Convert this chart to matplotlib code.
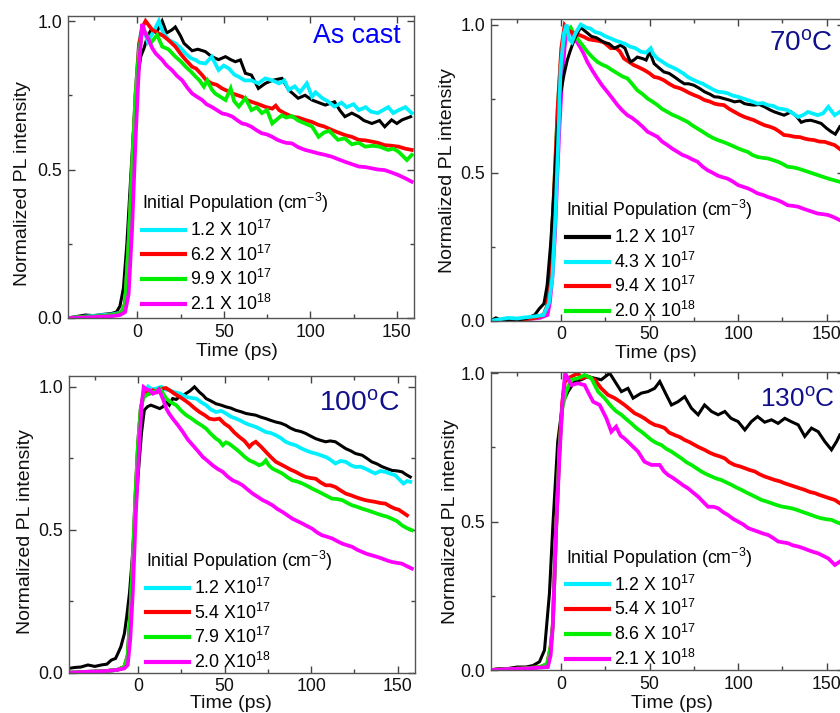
import matplotlib
matplotlib.use("Agg")
import matplotlib.pyplot as plt
from matplotlib.ticker import MultipleLocator, FormatStrFormatter

plt.rcParams['font.family'] = ['Liberation Sans', 'DejaVu Sans']
plt.rcParams['mathtext.fontset'] = 'custom'
plt.rcParams['mathtext.rm'] = 'Liberation Sans'
plt.rcParams['mathtext.it'] = 'Liberation Sans:italic'
plt.rcParams['mathtext.bf'] = 'Liberation Sans:bold'

# ---------------- data (time in ps, normalized PL) ----------------
# Panel 1: As cast
p1_black = [(-40,0.0),(-35,0.005),(-30,0.01),(-25,0.008),(-20,0.012),(-15,0.015),(-12,0.02),(-10,0.04),(-8,0.1),(-6,0.25),(-4,0.45),(-2,0.65),(0,0.8),(2,0.88),(4,0.91),(6,0.95),(8,0.97),(11,0.96),(14.4,1.0),(17,0.96),(20,0.97),(22,0.98),(25,0.95),(27,0.925),(31.7,0.90),(35,0.905),(39.4,0.897),(43,0.88),(47,0.87),(51,0.88),(54,0.87),(56.7,0.863),(59.6,0.869),(62.5,0.824),(66,0.818),(70,0.773),(74,0.79),(78,0.80),(83.6,0.807),(87.5,0.768),(93,0.74),(97,0.75),(101,0.734),(105,0.725),(108.7,0.717),(114,0.728),(117,0.70),(120,0.678),(124,0.69),(128,0.678),(131,0.665),(135.6,0.655),(140,0.665),(143,0.644),(147,0.667),(150,0.655),(153,0.667),(158,0.678)]
p1_cyan = [(-40,0.0),(-30,0.005),(-20,0.01),(-15,0.012),(-12,0.015),(-9,0.02),(-7,0.05),(-5,0.25),(-3,0.5),(-1,0.75),(1,0.92),(3,0.99),(6,0.93),(9,0.96),(12.5,1.0),(15,0.96),(18.3,0.936),(22,0.925),(25,0.91),(28,0.89),(31,0.875),(33.7,0.869),(36,0.86),(39.4,0.857),(43,0.88),(47,0.835),(50,0.85),(53,0.84),(56,0.82),(58.7,0.812),(62,0.80),(66,0.80),(70,0.79),(74,0.807),(78,0.80),(82,0.79),(85,0.80),(87.5,0.768),(91,0.78),(94,0.76),(98,0.79),(101,0.745),(103,0.76),(107,0.74),(110,0.73),(114,0.712),(118,0.725),(121,0.71),(125,0.72),(128,0.70),(132,0.71),(135,0.695),(139,0.69),(142,0.70),(145,0.71),(148,0.69),(151,0.70),(155,0.71),(158.6,0.69)]
p1_red = [(-40,0.0),(-30,0.003),(-20,0.006),(-15,0.01),(-12,0.012),(-9,0.02),(-7,0.05),(-5,0.25),(-3,0.5),(-1,0.75),(1,0.92),(3,0.98),(4.8,1.0),(8.7,0.97),(12.5,0.958),(15,0.95),(18,0.936),(22,0.914),(25,0.89),(28,0.869),(31.7,0.846),(34,0.84),(37.5,0.818),(40,0.80),(43,0.79),(46,0.785),(49,0.773),(52,0.765),(55,0.756),(58,0.75),(60.6,0.745),(63,0.735),(66,0.728),(70,0.72),(74,0.711),(78,0.705),(80,0.715),(82,0.70),(85,0.69),(89.4,0.678),(93,0.675),(97,0.667),(101,0.66),(104.8,0.65),(108,0.645),(112.5,0.633),(116,0.625),(120,0.616),(124,0.61),(128,0.60),(132,0.598),(135.6,0.594),(139,0.59),(143,0.582),(147,0.58),(151,0.577),(155,0.57),(158.6,0.566)]
p1_green = [(-40,0.0),(-30,0.003),(-20,0.006),(-15,0.01),(-12,0.012),(-9,0.02),(-7,0.05),(-5,0.25),(-3,0.5),(-1,0.75),(1,0.9),(3,0.97),(5,0.96),(7.7,0.925),(11.5,0.953),(14.4,0.914),(18,0.905),(22,0.88),(25,0.865),(28,0.846),(31,0.83),(33.7,0.813),(36,0.80),(38.5,0.779),(40.5,0.80),(43,0.77),(45,0.756),(48,0.745),(51,0.734),(54,0.773),(56,0.73),(58.7,0.712),(62.5,0.74),(66,0.70),(69,0.71),(72,0.69),(75,0.70),(78,0.655),(81,0.67),(83.6,0.683),(86,0.675),(89.4,0.68),(93,0.665),(97,0.655),(101,0.645),(104.8,0.61),(108,0.625),(111,0.63),(116,0.60),(120,0.605),(124,0.585),(128,0.59),(131.7,0.577),(136,0.58),(140,0.577),(145,0.566),(148,0.57),(151,0.56),(155.8,0.532),(158.6,0.549)]
p1_magenta = [(-40,0.0),(-35,0.0),(-25,0.003),(-15,0.006),(-10,0.01),(-7,0.02),(-5,0.08),(-3,0.3),(-1,0.6),(1,0.85),(2.9,0.99),(4.5,0.96),(6.7,0.936),(8.5,0.91),(10.6,0.891),(12.5,0.88),(14.4,0.869),(17,0.85),(20,0.835),(23,0.815),(26,0.80),(29,0.775),(31.7,0.756),(34.5,0.745),(37.5,0.734),(40,0.72),(43,0.711),(46,0.70),(49,0.689),(52,0.685),(55,0.678),(58,0.665),(60.6,0.655),(63,0.652),(66,0.644),(69,0.632),(72,0.622),(75,0.618),(78,0.61),(81,0.60),(83.6,0.594),(86,0.59),(89.4,0.588),(93,0.575),(97,0.566),(101,0.56),(104.8,0.554),(108,0.55),(112.5,0.543),(116,0.535),(120,0.526),(124,0.518),(128,0.51),(132,0.508),(135.6,0.504),(139,0.50),(143,0.498),(147,0.49),(151,0.481),(155,0.47),(158.6,0.459)]

# Panel 2: 70 C
p2_black = [(-40,0.0),(-37,0.01),(-33,0.0),(-28,0.005),(-24,0.003),(-20,0.008),(-15,0.02),(-12.6,0.04),(-9.8,0.058),(-8,0.12),(-6,0.26),(-4.5,0.4),(-3.2,0.54),(-2,0.66),(-0.4,0.767),(1.5,0.83),(3.4,0.88),(5,0.91),(7.2,0.947),(9,0.97),(11,0.99),(14,0.975),(17,0.96),(20,0.955),(24,0.94),(27,0.935),(30,0.92),(33.6,0.93),(36,0.92),(39,0.874),(41,0.88),(43,0.89),(46,0.885),(48,0.88),(50,0.908),(52.5,0.868),(55,0.855),(58,0.84),(61,0.835),(64,0.823),(67,0.81),(69.6,0.80),(72,0.80),(75,0.795),(78,0.785),(81,0.773),(84,0.765),(86.6,0.756),(89,0.755),(92,0.75),(95,0.745),(98,0.739),(101,0.742),(103.6,0.733),(106,0.73),(109,0.728),(112,0.73),(115,0.722),(118,0.712),(120.6,0.705),(123,0.70),(126,0.694),(130,0.705),(133,0.69),(135.7,0.67),(138,0.675),(141,0.677),(144,0.672),(147,0.666),(150,0.65),(152.7,0.638),(155,0.63),(157.5,0.655)]
p2_cyan = [(-40,0.0),(-35,0.005),(-30,0.01),(-25,0.008),(-20,0.012),(-15,0.015),(-10,0.02),(-7,0.06),(-5,0.15),(-3.2,0.37),(-1.5,0.65),(-0.4,0.85),(1.5,0.97),(3,1.0),(4.5,0.95),(6,0.94),(8,0.97),(11,1.0),(14,0.99),(16.6,0.986),(19,0.975),(22,0.97),(25,0.96),(28,0.953),(31,0.945),(33.6,0.94),(36,0.935),(39,0.925),(42,0.92),(45,0.908),(48,0.905),(50.6,0.92),(52,0.90),(54.4,0.885),(57,0.875),(60,0.863),(63,0.855),(66,0.846),(69,0.835),(71.5,0.823),(74,0.815),(77,0.807),(80,0.80),(83,0.79),(86,0.78),(88.5,0.773),(91,0.772),(94,0.768),(97,0.76),(100,0.756),(103,0.75),(105.5,0.745),(108,0.74),(111,0.733),(114,0.735),(116.8,0.728),(120,0.725),(122.5,0.717),(125,0.715),(128,0.711),(131,0.70),(134,0.688),(137,0.695),(139.5,0.705),(142,0.70),(145,0.694),(148,0.70),(151,0.722),(154.6,0.694),(157.5,0.705)]
p2_red = [(-40,0.0),(-30,0.003),(-20,0.006),(-15,0.01),(-10,0.02),(-8,0.05),(-6,0.2),(-4,0.45),(-2,0.72),(0,0.92),(1.9,0.997),(4,0.98),(7.2,0.97),(10,0.965),(12.9,0.958),(15.5,0.95),(18.5,0.947),(21,0.945),(24,0.94),(26,0.93),(28,0.92),(31,0.92),(33,0.91),(35.5,0.885),(38,0.875),(41,0.863),(44,0.855),(47,0.846),(50,0.835),(52.5,0.823),(55,0.82),(58,0.812),(61,0.80),(64,0.79),(67,0.785),(69.6,0.778),(72,0.77),(75,0.762),(78,0.755),(81,0.745),(84,0.74),(86.6,0.733),(89,0.73),(92,0.728),(95,0.715),(98,0.705),(101,0.695),(103.6,0.688),(106,0.683),(109,0.677),(112,0.668),(115,0.66),(118,0.655),(120.6,0.649),(123,0.64),(126,0.627),(129,0.625),(132,0.621),(135,0.62),(137.6,0.615),(140,0.612),(143,0.61),(146,0.605),(149,0.604),(152,0.598),(154.6,0.593),(157.5,0.58)]
p2_green = [(-40,0.0),(-30,0.003),(-20,0.006),(-15,0.01),(-10,0.02),(-8,0.05),(-6,0.2),(-4,0.45),(-2,0.72),(0,0.9),(2,0.97),(5.3,0.99),(7,0.97),(9,0.953),(12,0.93),(14.7,0.908),(17.5,0.89),(20.4,0.874),(23,0.865),(26,0.857),(29,0.845),(31.8,0.835),(34.5,0.825),(37.4,0.818),(40,0.80),(43,0.778),(46,0.765),(48.8,0.75),(51.5,0.74),(54.4,0.728),(57,0.715),(60,0.705),(63,0.695),(65.8,0.688),(68.5,0.68),(71.5,0.671),(74,0.66),(77,0.649),(80,0.638),(82.8,0.627),(85.5,0.618),(88.5,0.61),(91,0.605),(94,0.598),(97,0.59),(100,0.582),(103,0.575),(105.5,0.57),(108,0.56),(111,0.553),(114,0.55),(116.8,0.548),(120,0.542),(122.5,0.537),(125,0.53),(128,0.52),(131,0.518),(134,0.514),(137,0.508),(139.5,0.503),(142,0.498),(145,0.492),(148,0.486),(151,0.48),(154,0.475),(157.5,0.469)]
p2_magenta = [(-40,0.0),(-30,0.0),(-20,0.005),(-12,0.01),(-7.8,0.02),(-6.5,0.06),(-5,0.149),(-3.5,0.3),(-2.3,0.485),(-1,0.66),(0.5,0.82),(2,0.93),(3.4,0.99),(5,0.985),(7.2,0.953),(9,0.94),(11,0.92),(12.8,0.9),(14.7,0.874),(17.5,0.845),(20.4,0.818),(23,0.795),(26,0.773),(29,0.75),(31.8,0.728),(34.5,0.71),(37.4,0.694),(40,0.685),(43,0.671),(46,0.655),(48.8,0.638),(51.5,0.63),(54.4,0.621),(57,0.605),(60,0.593),(63,0.58),(65.8,0.57),(68.5,0.56),(71.5,0.553),(74,0.545),(77,0.537),(80,0.52),(82.8,0.508),(85.5,0.5),(88.5,0.49),(91,0.485),(94,0.48),(97,0.47),(100,0.458),(103,0.452),(105.5,0.447),(108,0.44),(111,0.43),(114,0.425),(116.8,0.418),(120,0.412),(122.5,0.407),(125,0.4),(128,0.39),(131,0.388),(134,0.385),(137,0.378),(139.5,0.373),(142,0.368),(145,0.362),(148,0.36),(151,0.357),(154,0.35),(157.5,0.34)]

# Panel 3: 100 C
p3_black = [(-40,0.015),(-37,0.018),(-33,0.02),(-29,0.027),(-25,0.022),(-21.3,0.027),(-18,0.03),(-15.5,0.044),(-13,0.05),(-11.7,0.067),(-10,0.09),(-7.9,0.137),(-6.5,0.2),(-5,0.277),(-3.5,0.39),(-2.1,0.51),(-0.7,0.63),(0.7,0.744),(2,0.84),(3.6,0.918),(5.5,0.93),(7.4,0.935),(10,0.929),(12.5,0.923),(14.5,0.93),(16.3,0.946),(18,0.935),(20,0.958),(22,0.955),(24,0.964),(26,0.97),(27.8,0.976),(30,0.985),(32.6,0.999),(35.5,0.98),(37.5,0.97),(39.3,0.958),(42,0.95),(45,0.94),(48,0.935),(50.8,0.929),(53.5,0.925),(56.6,0.917),(59.5,0.912),(62.3,0.906),(65,0.903),(68,0.9),(71,0.893),(73.8,0.888),(76.5,0.882),(79.6,0.876),(82.5,0.872),(85.3,0.865),(88,0.855),(91,0.847),(94,0.843),(96.9,0.836),(100,0.826),(102.6,0.818),(105.5,0.812),(108.4,0.807),(111,0.81),(114,0.807),(117,0.795),(120,0.783),(123,0.775),(125.6,0.766),(129.5,0.76),(132,0.75),(135,0.737),(138,0.73),(141,0.72),(144,0.713),(146.7,0.707),(150,0.705),(152.5,0.702),(155,0.692),(157.3,0.684)]
p3_cyan = [(-40,0.0),(-30,0.003),(-20,0.005),(-12,0.01),(-8,0.02),(-6,0.06),(-4.5,0.2),(-3,0.4),(-1.5,0.62),(0,0.8),(1.5,0.92),(2.9,0.97),(4.3,0.985),(5.8,1.0),(8,0.99),(10.5,0.993),(13.4,0.999),(15.5,0.99),(18.2,0.987),(21,0.98),(24,0.976),(26,0.97),(27.8,0.964),(31,0.96),(33.6,0.958),(36.5,0.945),(39.3,0.935),(42,0.92),(45,0.911),(48,0.915),(50.8,0.906),(53.5,0.895),(56.6,0.888),(59.5,0.88),(62.3,0.871),(65,0.865),(68,0.859),(71,0.85),(73.8,0.841),(76.5,0.838),(79.6,0.83),(82.5,0.82),(85.3,0.807),(88,0.80),(91,0.795),(94,0.785),(96.9,0.777),(100,0.77),(102.6,0.766),(105.5,0.76),(108.4,0.754),(111,0.745),(114,0.731),(117,0.74),(120,0.737),(123,0.725),(125.6,0.719),(128.5,0.72),(131.4,0.713),(134,0.705),(137,0.696),(140,0.705),(142.9,0.702),(146,0.695),(148.6,0.69),(151,0.675),(153.4,0.661),(155.5,0.67),(157.3,0.667)]
p3_red = [(-40,0.0),(-30,0.003),(-20,0.005),(-12,0.01),(-8,0.02),(-6,0.06),(-4.5,0.2),(-3,0.4),(-1.5,0.62),(0,0.8),(1.5,0.92),(3,0.97),(4.8,0.98),(6.5,0.975),(8.6,0.987),(11,0.98),(14.4,0.993),(16,0.995),(18.2,0.987),(21,0.975),(24,0.964),(27,0.952),(29.7,0.94),(32.5,0.925),(35.5,0.911),(38.5,0.9),(41.2,0.888),(44,0.885),(47,0.888),(50,0.87),(52.7,0.859),(55.5,0.84),(58.5,0.824),(61.5,0.81),(64.3,0.789),(66,0.80),(68,0.807),(71,0.79),(73.8,0.772),(76.5,0.755),(79.6,0.737),(82.5,0.728),(85.3,0.719),(88,0.71),(91,0.702),(94,0.692),(96.9,0.684),(100,0.68),(102.6,0.678),(105.5,0.665),(108.4,0.655),(111,0.655),(114,0.649),(117,0.637),(120,0.626),(123,0.62),(125.6,0.614),(128.5,0.608),(131.4,0.603),(134,0.6),(137,0.597),(140,0.593),(142.9,0.591),(146,0.58),(148.6,0.573),(150.5,0.57),(152.5,0.562),(155.4,0.55)]
p3_green = [(-40,0.0),(-30,0.003),(-20,0.005),(-12,0.01),(-8,0.02),(-6,0.06),(-4.5,0.2),(-3,0.4),(-1.5,0.62),(0,0.8),(1.5,0.92),(3,0.96),(4.8,0.97),(6.5,0.975),(8.6,0.98),(10.5,0.985),(12.5,0.993),(14.5,0.975),(16.3,0.958),(19,0.945),(22,0.935),(25,0.915),(27.8,0.9),(30.5,0.89),(33.6,0.876),(36.5,0.865),(39.3,0.853),(42,0.835),(45,0.818),(47,0.81),(48.9,0.795),(50.8,0.805),(52.7,0.8),(55.5,0.787),(58.5,0.772),(61.5,0.755),(64.3,0.742),(67,0.735),(70,0.725),(72,0.73),(73.8,0.742),(75.5,0.725),(77.7,0.713),(80.5,0.705),(83.4,0.696),(86.3,0.683),(89.2,0.672),(92,0.668),(95,0.661),(98,0.652),(100.7,0.643),(103.5,0.635),(106.4,0.626),(109.3,0.617),(112.2,0.608),(115,0.607),(118,0.603),(121,0.593),(123.7,0.585),(126.5,0.58),(129.5,0.573),(132.3,0.568),(135.2,0.562),(138,0.556),(141,0.55),(144,0.545),(146.7,0.538),(149.5,0.53),(152.5,0.515),(155.4,0.505),(158.2,0.498)]
p3_magenta = [(-40,0.0),(-30,0.003),(-20,0.005),(-12,0.01),(-8,0.015),(-6,0.027),(-4.5,0.12),(-3.1,0.277),(-1.2,0.57),(0.7,0.8),(2,0.93),(3.2,0.998),(5,0.99),(6.7,0.987),(8.5,0.975),(10.5,0.98),(12,0.99),(13.4,0.97),(14.8,0.95),(16.3,0.923),(18,0.905),(20,0.888),(23,0.865),(25.9,0.841),(28.7,0.815),(31.6,0.795),(34.5,0.775),(37.4,0.754),(40.2,0.74),(43,0.725),(46,0.712),(48.9,0.702),(51.8,0.685),(54.7,0.672),(57.5,0.665),(60.4,0.655),(63.3,0.64),(66.2,0.626),(69,0.615),(72,0.603),(74.8,0.595),(77.7,0.585),(80.5,0.572),(83.4,0.562),(86.3,0.55),(89.2,0.538),(92,0.53),(95,0.521),(97.8,0.512),(100.7,0.503),(103.5,0.49),(106.4,0.48),(109.3,0.475),(112.2,0.469),(115,0.46),(118,0.451),(121,0.445),(123.7,0.44),(126.5,0.43),(129.5,0.422),(132.3,0.415),(135.2,0.41),(138,0.405),(141,0.399),(144,0.392),(146.7,0.387),(149.5,0.384),(152.5,0.381),(155.4,0.372),(158.2,0.364)]

# Panel 4: 130 C
p4_black = [(-40,0.0),(-35,0.005),(-30,0.005),(-25,0.01),(-20,0.01),(-16,0.015),(-12.3,0.028),(-9.5,0.067),(-6.7,0.258),(-4.8,0.483),(-2,0.77),(0.8,0.9),(3.8,0.938),(7.5,0.972),(11.3,0.978),(15,0.989),(18.9,0.983),(22.6,0.978),(27.4,1.0),(31,0.966),(34,0.938),(37.7,0.949),(40.6,0.916),(45.3,0.933),(49,0.938),(52.8,0.949),(55.7,0.972),(59.4,0.927),(62.3,0.893),(66,0.904),(69.8,0.921),(73.6,0.882),(77.4,0.86),(81,0.893),(85,0.871),(88.7,0.86),(92.5,0.871),(96,0.848),(100,0.837),(103.8,0.809),(107.5,0.837),(111,0.854),(115,0.835),(118.9,0.843),(122.6,0.831),(126.4,0.848),(130,0.837),(134,0.826),(137.7,0.787),(141.5,0.815),(145.3,0.803),(149,0.77),(152.8,0.742),(155.7,0.77),(157.5,0.792)]
p4_red = [(-40,0.0),(-30,0.003),(-20,0.006),(-12,0.01),(-8,0.02),(-6,0.08),(-4.8,0.15),(-2.9,0.48),(-1,0.75),(0.5,0.9),(2,0.97),(3.8,0.983),(7.5,0.994),(9.5,1.0),(11.3,0.983),(15,0.989),(18.9,0.978),(22.6,0.949),(26.4,0.927),(30.2,0.916),(33,0.905),(35.8,0.893),(38.5,0.88),(41.5,0.865),(44,0.858),(47,0.848),(50,0.835),(52.8,0.826),(55.5,0.822),(58.5,0.815),(61,0.80),(64,0.792),(67,0.785),(69.8,0.775),(72.5,0.768),(75.5,0.758),(78,0.75),(81,0.742),(84,0.732),(86.8,0.725),(89.5,0.72),(92.5,0.713),(95,0.70),(98,0.691),(101,0.686),(103.8,0.68),(106.5,0.674),(109.4,0.669),(112,0.66),(115,0.652),(118,0.646),(120.8,0.64),(123.5,0.636),(126.4,0.629),(129,0.624),(132,0.618),(135,0.612),(137.7,0.607),(140.5,0.60),(143.4,0.596),(146,0.59),(149,0.584),(152,0.578),(154.7,0.573),(157.5,0.562)]
p4_green = [(-40,0.0),(-30,0.003),(-20,0.006),(-12,0.01),(-8,0.02),(-6,0.08),(-4.8,0.15),(-2.9,0.48),(-1,0.75),(0.5,0.88),(2.8,0.938),(5.7,0.978),(9.4,0.983),(13.2,0.994),(17,0.983),(20.8,0.938),(24.5,0.916),(28.3,0.888),(31,0.872),(34,0.86),(36.8,0.845),(39.6,0.831),(42.5,0.815),(45.3,0.803),(48,0.79),(51,0.775),(53.8,0.765),(56.6,0.758),(59.5,0.745),(62.3,0.736),(65,0.725),(68,0.713),(70.8,0.70),(73.6,0.691),(76.4,0.68),(79.2,0.669),(82,0.66),(85,0.652),(87.8,0.645),(90.6,0.64),(93.4,0.632),(96.2,0.624),(99,0.615),(101.9,0.607),(104.7,0.598),(107.5,0.59),(110.3,0.582),(113.2,0.573),(116,0.568),(118.9,0.562),(121.7,0.556),(124.5,0.551),(127.4,0.548),(130.2,0.545),(133,0.54),(135.8,0.534),(138.7,0.528),(141.5,0.522),(144.3,0.516),(147.2,0.511),(150,0.508),(152.8,0.506),(155,0.5),(157.5,0.494)]
p4_magenta = [(-40,0.0),(-30,0.003),(-20,0.005),(-12,0.008),(-7.6,0.01),(-6,0.05),(-4.8,0.15),(-2.9,0.48),(-1,0.72),(-0.1,0.82),(1,0.93),(2.2,1.0),(5.7,0.96),(9.4,0.966),(13.2,0.96),(15,0.938),(18,0.904),(21.7,0.893),(25.5,0.848),(28.3,0.803),(31,0.82),(33.5,0.79),(35.8,0.78),(39.6,0.758),(43.4,0.736),(47,0.702),(51,0.691),(55.7,0.691),(58,0.67),(60.4,0.657),(63,0.648),(66,0.635),(69,0.622),(71.7,0.612),(74.5,0.598),(77.4,0.584),(80,0.568),(83,0.55),(86,0.55),(88.7,0.545),(91.5,0.532),(94.3,0.522),(97,0.51),(100,0.5),(103,0.49),(105.7,0.478),(108.5,0.472),(111.3,0.466),(114,0.46),(117,0.455),(120,0.444),(122.6,0.433),(125.5,0.43),(128.3,0.427),(131,0.42),(134,0.416),(137,0.41),(139.6,0.404),(142.5,0.398),(145.3,0.393),(148,0.385),(151,0.376),(154.7,0.354),(157.5,0.365)]

titles = ["As cast", "70$^{\\mathrm{o}}$C", "100$^{\\mathrm{o}}$C", "130$^{\\mathrm{o}}$C"]
legend_title = "Initial Population (cm$^{-3}$)"
p1_labels = ["1.2 X 10$^{17}$", "6.2 X 10$^{17}$", "9.9 X 10$^{17}$", "2.1 X 10$^{18}$"]
p2_labels = ["1.2 X 10$^{17}$", "4.3 X 10$^{17}$", "9.4 X 10$^{17}$", "2.0 X 10$^{18}$"]
p3_labels = ["1.2 X10$^{17}$", "5.4 X10$^{17}$", "7.9 X10$^{17}$", "2.0 X10$^{18}$"]
p4_labels = ["1.2 X 10$^{17}$", "5.4 X 10$^{17}$", "8.6 X 10$^{17}$", "2.1 X 10$^{18}$"]

# ---------------- styling ----------------
C = {'black': '#000000', 'cyan': '#00f0ff', 'red': '#ff0000',
     'green': '#00ee00', 'magenta': '#ff00ff'}
LW = 2.7
LW_BLACK = 2.2
FS_TICK = 12.8
FS_LABEL = 14
FS_LEG = 12.8

fig = plt.figure(figsize=(8.4, 7.13), dpi=100)

positions = [
    [0.081, 0.554, 0.412, 0.424],
    [0.584, 0.550, 0.421, 0.4227],
    [0.082, 0.0565, 0.412, 0.4166],
    [0.584, 0.0603, 0.421, 0.4175],
]
ytops = [1.018, 1.017, 1.038, 1.003]
title_cfg = [  # (x, y, size, color)
    (152, 0.925, 19.3, '#0000ff'),
    (153.5, 0.913, 20.1, '#10108c'),
    (151.5, 0.916, 20.4, '#10108c'),
    (154.7, 0.887, 18.9, '#10108c'),
]
legend_anchor = [(0.213, 0.42), (0.212, 0.407), (0.222, 0.416), (0.212, 0.417)]
xlabel_xy = [(0.488, -0.083), (0.467, -0.081), (0.468, -0.075), (0.512, -0.084)]
ylabel_xy = [(-0.107, 0.445), (-0.099, 0.5), (-0.101, 0.474), (-0.090, 0.497)]


def unzip(pts):
    return [p[0] for p in pts], [p[1] for p in pts]


axes = [fig.add_axes(p) for p in positions]

panel_curves = [
    [(p1_black, 'black'), (p1_cyan, 'cyan'), (p1_red, 'red'),
     (p1_green, 'green'), (p1_magenta, 'magenta')],
    [(p2_magenta, 'magenta'), (p2_green, 'green'), (p2_red, 'red'),
     (p2_black, 'black'), (p2_cyan, 'cyan')],
    [(p3_black, 'black'), (p3_cyan, 'cyan'), (p3_red, 'red'),
     (p3_green, 'green'), (p3_magenta, 'magenta')],
    [(p4_black, 'black'), (p4_red, 'red'),
     (p4_green, 'green'), (p4_magenta, 'magenta')],
]
panel_labels = [p1_labels, p2_labels, p3_labels, p4_labels]
legend_colors = [
    ['cyan', 'red', 'green', 'magenta'],
    ['black', 'cyan', 'red', 'green'],
    ['cyan', 'red', 'green', 'magenta'],
    ['cyan', 'red', 'green', 'magenta'],
]

for i, ax in enumerate(axes):
    for pts, ck in panel_curves[i]:
        t, y = unzip(pts)
        ax.plot(t, y, color=C[ck], lw=(LW_BLACK if ck == 'black' else LW),
                zorder=2, solid_joinstyle='miter')
    hs = [ax.plot([], [], color=C[c], lw=3.0)[0] for c in legend_colors[i]]
    ax.legend(hs, panel_labels[i], loc='upper left',
              bbox_to_anchor=legend_anchor[i], frameon=False,
              fontsize=FS_LEG, title=legend_title, title_fontsize=FS_LEG,
              handlelength=2.45, handletextpad=0.25, labelspacing=0.26,
              borderpad=0, borderaxespad=0, alignment='left')
    ax.set_xlim(-40, 160)
    ax.set_ylim(0, ytops[i])
    ax.xaxis.set_major_locator(MultipleLocator(50))
    ax.xaxis.set_minor_locator(MultipleLocator(25))
    ax.yaxis.set_major_locator(MultipleLocator(0.5))
    ax.yaxis.set_minor_locator(MultipleLocator(0.25))
    ax.yaxis.set_major_formatter(FormatStrFormatter('%.1f'))
    ax.tick_params(which='both', direction='in', top=True, right=True,
                   labelsize=FS_TICK, pad=4, color='#444444', labelcolor='#111111')
    ax.tick_params(which='major', length=5, width=1)
    ax.tick_params(which='minor', length=3, width=1)
    for s in ax.spines.values():
        s.set_color('#555555')
        s.set_linewidth(1.0)
    ax.set_xlabel('Time (ps)', fontsize=FS_LABEL, color='#111111')
    ax.set_ylabel('Normalized PL intensity', fontsize=FS_LABEL, color='#111111')
    ax.xaxis.set_label_coords(*xlabel_xy[i])
    ax.yaxis.set_label_coords(*ylabel_xy[i])
    tx, ty, ts, tc = title_cfg[i]
    ax.text(tx, ty, titles[i], fontsize=ts, color=tc, ha='right', va='baseline')

fig.savefig('out.png', dpi=100)
